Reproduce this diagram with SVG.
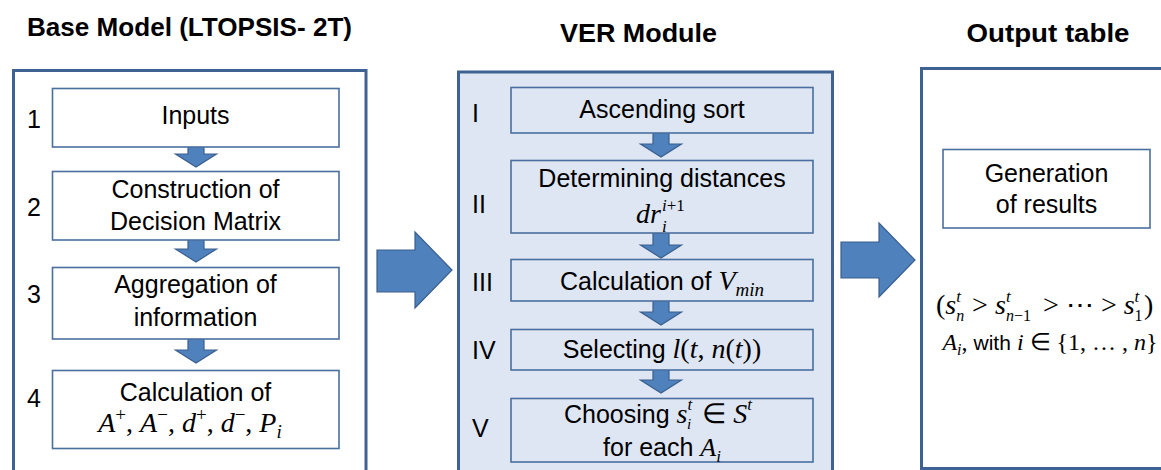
<svg xmlns="http://www.w3.org/2000/svg" width="1161" height="470" viewBox="0 0 1161 470">
<defs>
<style>
.title{font-family:"Liberation Sans",Arial,sans-serif;font-weight:bold;font-size:26px;fill:#000;text-anchor:middle}
.t{font-family:"Liberation Sans",Arial,sans-serif;font-size:25px;fill:#000;text-anchor:middle}
.ts{font-family:"Liberation Sans",Arial,sans-serif;font-size:25px;fill:#000}
.n{font-family:"Liberation Sans",Arial,sans-serif;font-size:25px;fill:#000}
.m{font-family:"Liberation Serif","Times New Roman",serif;font-size:28px;fill:#000}
.mm{font-family:"Liberation Serif","Times New Roman",serif;font-size:28px}
.sc{font-family:"Liberation Serif","Times New Roman",serif;font-size:17px;font-style:italic;fill:#000}
.s{font-family:"Liberation Sans",Arial,sans-serif;font-style:normal}
.i{font-style:italic}
.up{font-style:normal}
.sm{font-size:19px}
.outer{fill:#fff;stroke:#3e6292;stroke-width:3}
.outerb{fill:#dde6f2;stroke:#3e6292;stroke-width:3}
.box{fill:#fff;stroke:#4a6f9f;stroke-width:1.6}
.boxb{fill:#dde6f2;stroke:#4a6f9f;stroke-width:1.6}
.arr{fill:#4f81bd;stroke:#3a5f8e;stroke-width:1.2}
</style>
<path id="down" d="M-8 -25 H8 V-13 H20.5 L0 0 L-20.5 -13 H-8 Z"/>
</defs>
<rect width="1161" height="470" fill="#fff"/>

<g id="titles">
<text class="title" x="189.5" y="36" textLength="325" lengthAdjust="spacingAndGlyphs">Base Model (LTOPSIS- 2T)</text>
<text class="title" x="638.5" y="42" textLength="157" lengthAdjust="spacingAndGlyphs">VER Module</text>
<text class="title" x="1048" y="42" textLength="163" lengthAdjust="spacingAndGlyphs">Output table</text>
</g>

<g id="panel-base">
<rect class="outer" x="13.5" y="70.5" width="352.5" height="420"/>
</g>
<g id="panel-ver">
<rect class="outerb" x="458.5" y="72" width="374" height="420"/>
</g>
<g id="panel-output">
<rect class="outer" x="921.5" y="68.5" width="260" height="400"/>
</g>

<g id="connectors">
<use href="#down" class="arr" transform="translate(196,167)"/>
<use href="#down" class="arr" transform="translate(196,262)"/>
<use href="#down" class="arr" transform="translate(196,363)"/>
<use href="#down" class="arr" transform="translate(661,157)"/>
<use href="#down" class="arr" transform="translate(661,258)"/>
<use href="#down" class="arr" transform="translate(661,325)"/>
<use href="#down" class="arr" transform="translate(661,393)"/>
<path class="arr" d="M377 250 H415 V232 L452 270 L415 308 V292 H377 Z"/>
<path class="arr" d="M841 242 H879 V223 L915 260 L879 297 V278 H841 Z"/>
</g>

<g id="step1">
<rect class="box" x="52.5" y="88.5" width="286.5" height="58.5"/>
<text class="n" x="27" y="128">1</text>
<text class="t" x="195.5" y="124">Inputs</text>
</g>
<g id="step2">
<rect class="box" x="52.5" y="171.5" width="286.5" height="68.5"/>
<text class="n" x="27" y="216">2</text>
<text class="t" x="195.5" y="198">Construction of</text>
<text class="t" x="195.5" y="230">Decision Matrix</text>
</g>
<g id="step3">
<rect class="box" x="52.5" y="267.5" width="286.5" height="71.5"/>
<text class="n" x="27" y="303">3</text>
<text class="t" x="195.5" y="293">Aggregation of</text>
<text class="t" x="195.5" y="326">information</text>
</g>
<g id="step4">
<rect class="box" x="52.5" y="370.5" width="286.5" height="78"/>
<text class="n" x="27" y="407">4</text>
<text class="t" x="195.5" y="401">Calculation of</text>
<text class="m" x="190" y="432" text-anchor="middle"><tspan class="i">A</tspan><tspan class="sm" baseline-shift="11">+</tspan>, <tspan class="i">A</tspan><tspan class="sm" baseline-shift="11">−</tspan>, <tspan class="i">d</tspan><tspan class="sm" baseline-shift="11">+</tspan>, <tspan class="i">d</tspan><tspan class="sm" baseline-shift="11">−</tspan>, <tspan class="i">P</tspan><tspan class="sm i" baseline-shift="-6">i</tspan></text>
</g>

<g id="ver1">
<rect class="boxb" x="511" y="87.5" width="302" height="45.5"/>
<text class="n" x="472" y="122">I</text>
<text class="t" x="662" y="118">Ascending sort</text>
</g>
<g id="ver2">
<rect class="boxb" x="511" y="160.5" width="302" height="72.5"/>
<text class="n" x="472" y="213">II</text>
<text class="t" x="662" y="187">Determining distances</text>
<text class="m i" x="636" y="223">dr</text>
<text class="sc" x="662" y="211">i<tspan class="up">+1</tspan></text>
<text class="sc" x="662" y="232">i</text>
</g>
<g id="ver3">
<rect class="boxb" x="511" y="259.5" width="302" height="41.5"/>
<text class="n" x="472" y="291">III</text>
<text class="t" x="662" y="290">Calculation of <tspan class="mm i">V</tspan><tspan class="mm i sm" baseline-shift="-6">min</tspan></text>
</g>
<g id="ver4">
<rect class="boxb" x="511" y="329.5" width="302" height="40.5"/>
<text class="n" x="472" y="359">IV</text>
<text class="t" x="662" y="358">Selecting <tspan class="mm"><tspan class="i">l</tspan>(<tspan class="i">t</tspan>, <tspan class="i">n</tspan>(<tspan class="i">t</tspan>))</tspan></text>
</g>
<g id="ver5">
<rect class="boxb" x="511" y="398.5" width="302" height="63.5"/>
<text class="n" x="472" y="437">V</text>
<text class="ts" x="564" y="423">Choosing <tspan class="mm i">s</tspan><tspan class="mm i" style="font-size:17px" baseline-shift="13">t</tspan><tspan class="mm" dx="3"> ∈ </tspan><tspan class="mm i">S</tspan><tspan class="mm i" style="font-size:17px" baseline-shift="13">t</tspan></text>
<text class="sc" x="687" y="429" style="font-size:15px">i</text>
<text class="t" x="662" y="456">for each <tspan class="mm i" style="font-size:26px">A</tspan><tspan class="mm i" style="font-size:17px" baseline-shift="-6">i</tspan></text>
</g>

<g id="output">
<rect class="box" x="943" y="149.5" width="207" height="78.5"/>
<text class="t" x="1046.5" y="182">Generation</text>
<text class="t" x="1046.5" y="213">of results</text>
<text class="m" y="314"><tspan x="936">(</tspan><tspan x="945.3" class="i">s</tspan><tspan x="956.2" y="302" class="i" style="font-size:17px">t</tspan><tspan x="972" y="314">&gt;</tspan><tspan x="995" class="i">s</tspan><tspan x="1005.9" y="302" class="i" style="font-size:17px">t</tspan><tspan x="1043" y="314">&gt;</tspan><tspan x="1066">⋯</tspan><tspan x="1101">&gt;</tspan><tspan x="1123.7" class="i">s</tspan><tspan x="1134.6" y="302" class="i" style="font-size:17px">t</tspan><tspan x="1144" y="314">)</tspan></text>
<text class="sc" y="321" style="font-size:16px"><tspan x="956.2">n</tspan><tspan x="1005.9">n<tspan class="up">−1</tspan></tspan><tspan x="1134.6" class="up">1</tspan></text>
<text class="m" x="1050" y="350" text-anchor="middle" style="font-size:24px"><tspan class="i">A</tspan><tspan class="i" baseline-shift="-5" style="font-size:16px">i</tspan>, <tspan class="s" style="font-size:21px">with</tspan> <tspan class="i">i</tspan> ∈ {1, … , <tspan class="i">n</tspan>}</text>
</g>
</svg>
